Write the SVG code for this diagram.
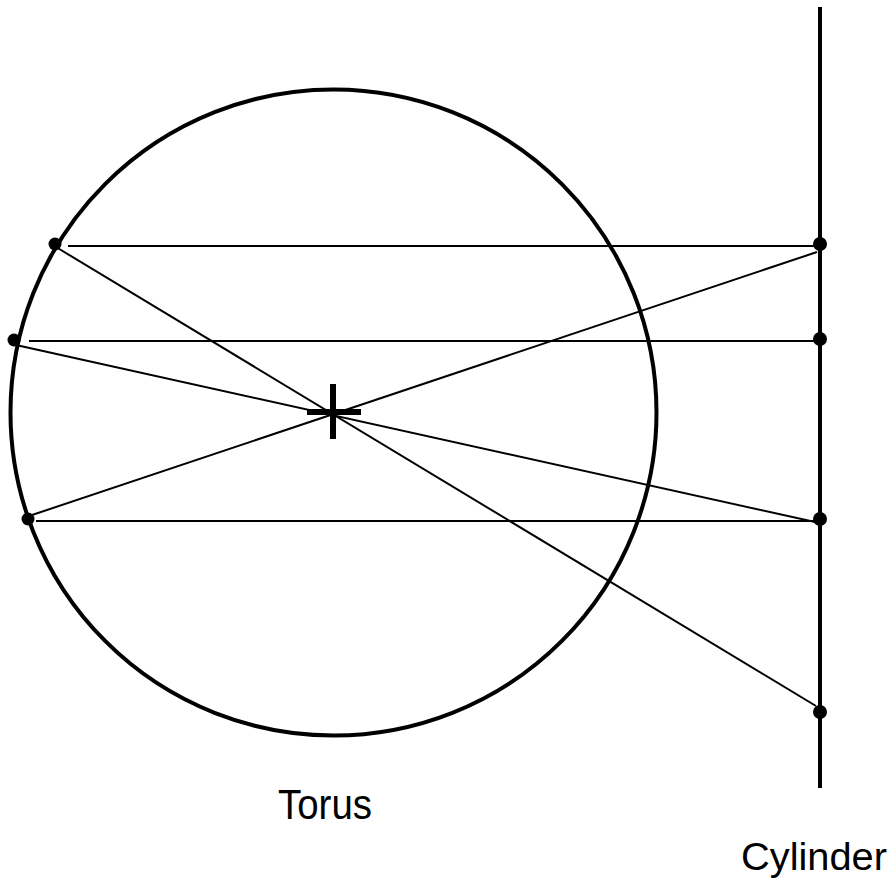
<svg xmlns="http://www.w3.org/2000/svg" width="890" height="888" viewBox="0 0 890 888">
<style>
.thin{stroke:#000;stroke-width:2;fill:none}
.dot{fill:#000}
.lbl{font-family:"Liberation Sans",Arial,sans-serif;fill:#000;text-anchor:middle}
</style>
<rect width="890" height="888" fill="#fff"/>
<g id="torus">
<circle cx="333.5" cy="412.5" r="323" fill="none" stroke="#000" stroke-width="4"/>
<path d="M307 412H361M333 384V439" stroke="#000" stroke-width="6" fill="none"/>
<circle class="dot" cx="55" cy="244" r="6.5"/>
<circle class="dot" cx="14" cy="340" r="6.5"/>
<circle class="dot" cx="28" cy="519" r="6.5"/>
<text class="lbl" x="325" y="819" font-size="42" textLength="94" lengthAdjust="spacingAndGlyphs">Torus</text>
</g>
<g id="cylinder">
<line x1="820" y1="7" x2="820" y2="788" stroke="#000" stroke-width="4"/>
<circle class="dot" cx="820" cy="244" r="7"/>
<circle class="dot" cx="820" cy="339" r="7"/>
<circle class="dot" cx="820" cy="519" r="7"/>
<circle class="dot" cx="820" cy="712" r="7"/>
<text class="lbl" x="814" y="870" font-size="38" textLength="146" lengthAdjust="spacingAndGlyphs">Cylinder</text>
</g>
<g id="connectors">
<line class="thin" x1="68" y1="246" x2="820" y2="246"/>
<line class="thin" x1="29" y1="341" x2="820" y2="341"/>
<line class="thin" x1="36" y1="521" x2="820" y2="521"/>
<line class="thin" x1="56" y1="247" x2="816" y2="706"/>
<line class="thin" x1="16" y1="345" x2="815" y2="522"/>
<line class="thin" x1="32" y1="515" x2="817" y2="252"/>
</g>
</svg>
